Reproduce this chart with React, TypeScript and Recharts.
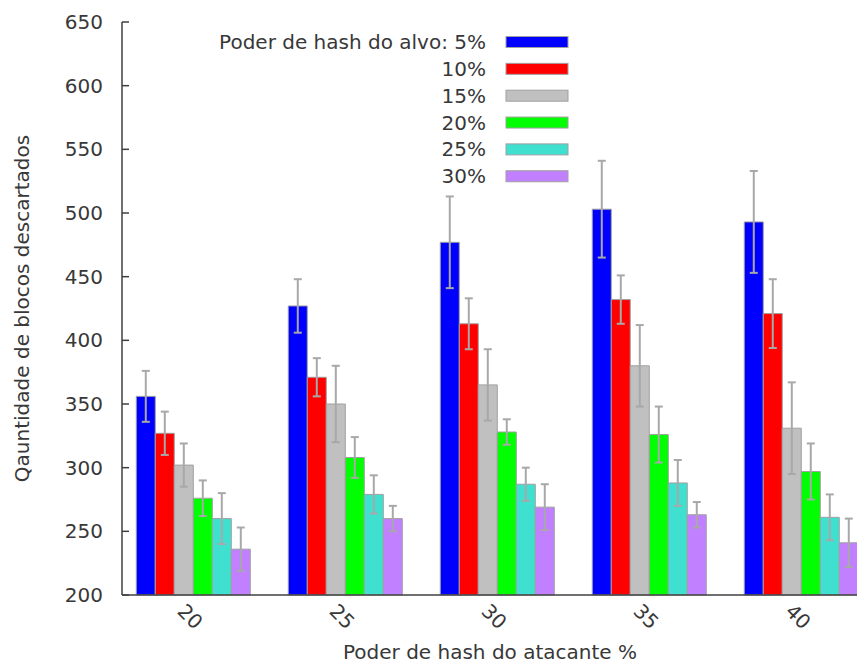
import React from 'react';
import { BarChart, Bar, XAxis, YAxis, ErrorBar, Legend } from 'recharts';

// ---- data ----
const attackerPower = [20, 25, 30, 35, 40];
const seriesNames = ['Poder de hash do alvo: 5%', '10%', '15%', '20%', '25%', '30%'];
const seriesColors = ['#0000ff', '#ff0000', '#c0c0c0', '#00ff00', '#40e0d0', '#c080ff'];

const target5 = [356, 427, 477, 503, 493];
const target5Err = [20, 21, 36, 38, 40];
const target10 = [327, 371, 413, 432, 421];
const target10Err = [17, 15, 20, 19, 27];
const target15 = [302, 350, 365, 380, 331];
const target15Err = [17, 30, 28, 32, 36];
const target20 = [276, 308, 328, 326, 297];
const target20Err = [14, 16, 10, 22, 22];
const target25 = [260, 279, 287, 288, 261];
const target25Err = [20, 15, 13, 18, 18];
const target30 = [236, 260, 269, 263, 241];
const target30Err = [17, 10, 18, 10, 19];

const yTicks = [200, 250, 300, 350, 400, 450, 500, 550, 600, 650];

const xTitle = 'Poder de hash do atacante %';
const yTitle = 'Qauntidade de blocos descartados';

const seriesValues = [target5, target10, target15, target20, target25, target30];
const seriesErrors = [target5Err, target10Err, target15Err, target20Err, target25Err, target30Err];

const data = attackerPower.map((x, i) => {
  const row: Record<string, number> = { x };
  seriesValues.forEach((vals, s) => {
    row[`v${s}`] = vals[i];
    row[`e${s}`] = seriesErrors[s][i];
  });
  return row;
});

// ---- styling ----
const FONT = '"DejaVu Sans", sans-serif';
const TEXT = '#383838';
const AXIS = '#404040';
const BAR_STROKE = '#a0a0a0';
const ERR = '#a8a8a8';

const XTick = (props: any) => {
  const { x, y, payload } = props;
  const cx = x - 3;
  const cy = y + 21.5;
  return (
    <text
      x={cx}
      y={cy}
      transform={`rotate(45, ${cx}, ${cy})`}
      textAnchor="middle"
      dominantBaseline="central"
      fontFamily={FONT}
      fontSize={20}
      fill={TEXT}
    >
      {payload.value}
    </text>
  );
};

const TopTick = (props: any) => {
  const { x, y } = props;
  return <line x1={x - 10} x2={x - 10} y1={y} y2={y + 7} stroke={AXIS} strokeWidth={1.5} />;
};

const YTick = (props: any) => {
  const { x, y, payload } = props;
  return (
    <g>
      <line x1={x} x2={x + 7} y1={y} y2={y} stroke={AXIS} strokeWidth={1.5} />
      <text
        x={x - 19}
        y={y}
        textAnchor="end"
        dominantBaseline="central"
        fontFamily={FONT}
        fontSize={20}
        fill={TEXT}
      >
        {payload.value}
      </text>
    </g>
  );
};

const LegendContent = (props: any) => {
  const payload = (props.payload || []) as any[];
  const items = seriesNames.map((name, i) => {
    const p = payload.find((e) => e.dataKey === `v${i}`);
    return { name: p ? p.value : name, color: p && p.color ? p.color : seriesColors[i] };
  });
  return (
    <svg width={857} height={200} style={{ display: 'block' }}>
      {items.map((it, i) => {
        const cy = 42 + i * 26.85;
        return (
          <g key={i}>
            <text
              x={486}
              y={cy}
              textAnchor="end"
              dominantBaseline="central"
              fontFamily={FONT}
              fontSize={20}
              fill={TEXT}
            >
              {it.name}
            </text>
            <rect x={506} y={cy - 5.5} width={62} height={11} fill={it.color} stroke={BAR_STROKE} strokeWidth={1} />
          </g>
        );
      })}
    </svg>
  );
};

const YLabel = (props: any) => {
  const vb = props.viewBox || { x: 22, y: 22, width: 100, height: 573 };
  const cx = vb.x;
  const cy = vb.y + vb.height / 2;
  return (
    <text
      x={cx}
      y={cy}
      transform={`rotate(-90, ${cx}, ${cy})`}
      textAnchor="middle"
      dominantBaseline="central"
      fontFamily={FONT}
      fontSize={20}
      fill={TEXT}
    >
      {yTitle}
    </text>
  );
};

const XLabel = (props: any) => {
  const vb = props.viewBox || { x: 122, y: 595, width: 736, height: 69 };
  const cx = vb.x + 368;
  const cy = vb.y + 57;
  return (
    <text
      x={cx}
      y={cy}
      textAnchor="middle"
      dominantBaseline="central"
      fontFamily={FONT}
      fontSize={20}
      fill={TEXT}
    >
      {xTitle}
    </text>
  );
};

export default function App() {
  return (
    <div
      style={{
        position: 'absolute',
        left: 0,
        top: 0,
        width: 857,
        height: 664,
        overflow: 'hidden',
        background: '#ffffff',
      }}
    >
      <BarChart
        width={860}
        height={664}
        data={data}
        margin={{ top: 22, right: 2, bottom: 0, left: 22 }}
        barGap={0}
        barSize={19}
      >
        <XAxis
          dataKey="x"
          type="number"
          domain={[17.655, 41.866]}
          ticks={attackerPower}
          height={69}
          tickSize={0}
          tickMargin={0}
          tickLine={false}
          tick={<XTick />}
          axisLine={{ stroke: AXIS, strokeWidth: 1.5 }}
          label={XLabel}
        />
        <XAxis
          xAxisId="top"
          orientation="top"
          dataKey="x"
          type="number"
          domain={[17.655, 41.866]}
          ticks={attackerPower}
          height={0}
          tickSize={0}
          tickMargin={0}
          tickLine={false}
          tick={<TopTick />}
          axisLine={{ stroke: AXIS, strokeWidth: 1.5 }}
        />
        <YAxis
          type="number"
          domain={[200, 650]}
          ticks={yTicks}
          width={100}
          tickSize={0}
          tickMargin={0}
          tickLine={false}
          tick={<YTick />}
          axisLine={{ stroke: AXIS, strokeWidth: 1.5 }}
          label={YLabel}
        />
        <Legend
          layout="vertical"
          align="center"
          verticalAlign="middle"
          content={<LegendContent />}
          wrapperStyle={{ position: 'absolute', top: 0, left: 0, width: 857, height: 200 }}
        />
        {seriesNames.map((name, s) => (
          <Bar
            key={s}
            dataKey={`v${s}`}
            name={name}
            fill={seriesColors[s]}
            stroke={BAR_STROKE}
            strokeWidth={1}
            isAnimationActive={false}
          >
            <ErrorBar
              dataKey={`e${s}`}
              direction="y"
              width={4}
              stroke={ERR}
              strokeWidth={2}
              isAnimationActive={false}
            />
          </Bar>
        ))}
      </BarChart>
    </div>
  );
}
